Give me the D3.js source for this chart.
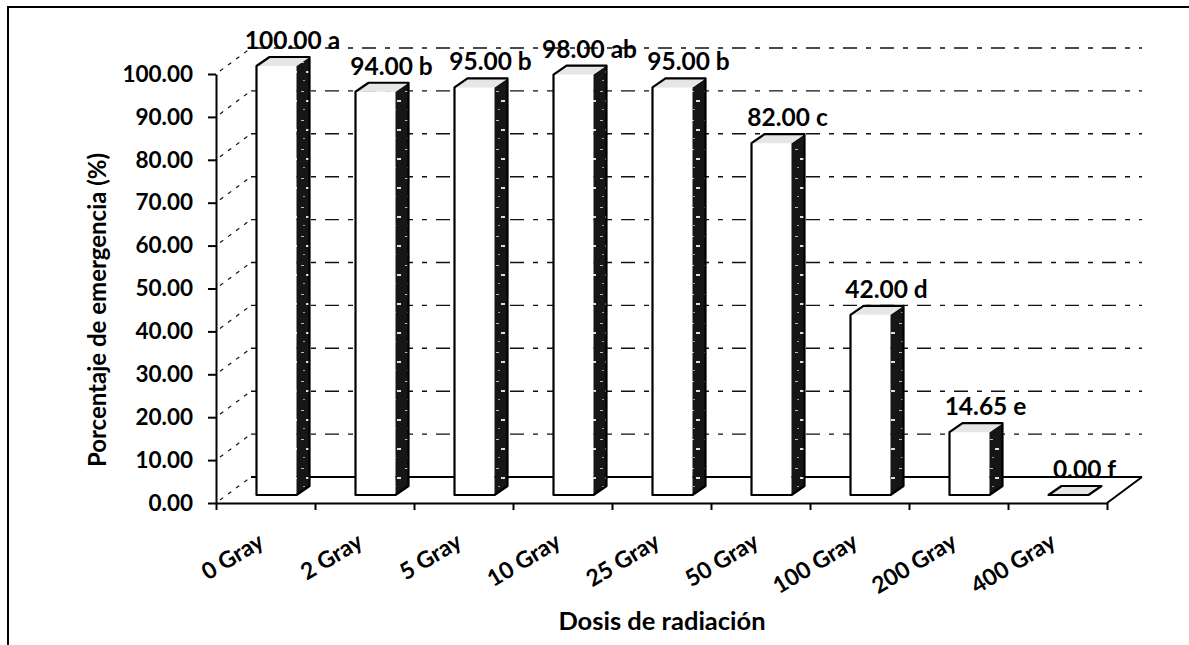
<!DOCTYPE html>
<html><head><meta charset="utf-8">
<script src="https://cdn.jsdelivr.net/npm/d3@7"></script>
<style>
body{margin:0;background:#fff}
text{font-family:Lato,"Open Sans",sans-serif;font-weight:bold;fill:#000}
</style>
</head><body><svg id="c" width="1189" height="645"></svg>
<script>
const categories = ["0 Gray","2 Gray","5 Gray","10 Gray","25 Gray","50 Gray","100 Gray","200 Gray","400 Gray"];
const values = [100,94,95,98,95,82,42,14.65,0];
const letters = ["a","b","b","ab","b","c","d","e","f"];
const yTicks = [0,10,20,30,40,50,60,70,80,90,100];
const yTitle = "Porcentaje de emergencia (%)";
const xTitle = "Dosis de radiación";

const svg = d3.select("#c");
const x = d3.scaleBand().domain(categories).range([216,1107]);
const xi = d3.scaleLinear().domain([0,categories.length]).range([216,1107]);
const y = d3.scaleLinear().domain([0,100]).range([503,74]);
const DX = 35, DY = -26;          // wall depth
const BW = 40, BDX = 13, BDY = -9; // bar width / bar depth
const BSX = 11, BSY = -8;          // bar inset from front plane

// pattern for dark side faces
const defs = svg.append("defs");
const pat = defs.append("pattern").attr("id","side").attr("patternUnits","userSpaceOnUse")
  .attr("width",13).attr("height",29);
pat.append("rect").attr("width",13).attr("height",29).attr("fill","#161616");
pat.append("rect").attr("x",2).attr("y",4).attr("width",3).attr("height",1).attr("fill","#bbb");
pat.append("rect").attr("x",7).attr("y",13).attr("width",4).attr("height",2).attr("fill","#ddd");
pat.append("rect").attr("x",4).attr("y",22).attr("width",2).attr("height",1).attr("fill","#999");

// outer frame
svg.append("rect").attr("x",8).attr("y",7).attr("width",1300).attr("height",800)
  .attr("fill","none").attr("stroke","#000").attr("stroke-width",2);

// walls / grid
const g = svg.append("g");
yTicks.filter(v=>v>0).forEach(v=>{
  g.append("line").attr("x1",xi(0)+DX).attr("x2",xi(categories.length)+DX)
    .attr("y1",y(v)+DY).attr("y2",y(v)+DY)
    .attr("stroke","#111").attr("stroke-width",1.4).attr("stroke-dasharray","14,9,5,9");
});
yTicks.forEach(v=>{
  g.append("line").attr("x1",xi(0)+4).attr("x2",xi(0)+DX)
    .attr("y1",y(v)-3).attr("y2",y(v)+DY)
    .attr("stroke","#111").attr("stroke-width",1.2).attr("stroke-dasharray","4,6");
});
// floor
g.append("line").attr("x1",xi(0)+DX).attr("x2",xi(categories.length)+DX)
  .attr("y1",y(0)+DY).attr("y2",y(0)+DY).attr("stroke","#000").attr("stroke-width",2);
g.append("line").attr("x1",xi(categories.length)).attr("x2",xi(categories.length)+DX)
  .attr("y1",y(0)).attr("y2",y(0)+DY).attr("stroke","#000").attr("stroke-width",2);

// bars
const bars = svg.append("g");
categories.forEach((c,i)=>{
  const v = values[i];
  const x0 = x(c)+x.bandwidth()/2-BW/2+BSX, x1 = x0+BW;
  const yb = y(0)+BSY, yt = y(v)+BSY;
  const b = bars.append("g");
  b.append("rect").attr("x",x0).attr("y",yt).attr("width",BW).attr("height",yb-yt).attr("fill","#fff");
  b.append("polygon").attr("points",[[x1,yb],[x1+BDX,yb+BDY],[x1+BDX,yt+BDY],[x1,yt]].join(" "))
    .attr("fill","url(#side)");
  b.append("polygon").attr("points",[[x0,yt],[x0+BDX,yt+BDY],[x1+BDX,yt+BDY],[x1,yt]].join(" "))
    .attr("fill","#e6e6e6");
  b.append("path").attr("d",`M${x0},${yb}L${x0},${yt}L${x0+BDX},${yt+BDY}L${x1+BDX},${yt+BDY}L${x1+BDX},${yb+BDY}L${x1},${yb}Z`)
    .attr("fill","none").attr("stroke","#000").attr("stroke-width",2.2).attr("stroke-linejoin","round");
  if (v===0) b.append("line").attr("x1",x0).attr("x2",x1).attr("y1",yb).attr("y2",yb).attr("stroke","#000").attr("stroke-width",2.2);
  b.append("text").attr("x",x0+BW/2+16).attr("y",yt+BDY-8).attr("text-anchor","middle")
    .attr("font-size",24.5).text(d3.format(".2f")(v)+" "+letters[i]);
});

// axes
const ya = svg.append("g").attr("transform",`translate(${xi(0)},0)`)
  .call(d3.axisLeft(y).tickValues(yTicks).tickFormat(d3.format(".2f")).tickSize(8).tickSizeOuter(0).tickPadding(15));
ya.selectAll("text").attr("font-size",22.5).style("font-family","Lato,'Open Sans',sans-serif").style("font-weight","bold");
ya.selectAll("line,path").attr("stroke","#000").attr("stroke-width",2);

const xa = svg.append("g").attr("transform",`translate(0,${y(0)})`)
  .call(d3.axisBottom(xi).tickValues(d3.range(categories.length+1)).tickFormat("").tickSize(7).tickSizeOuter(0));
xa.selectAll("line,path").attr("stroke","#000").attr("stroke-width",2);

svg.append("g").selectAll("text").data(categories).join("text")
  .attr("text-anchor","end").attr("font-size",23)
  .attr("transform",d=>`translate(${x(d)+x.bandwidth()/2},546) rotate(-31)`)
  .text(d=>d);

svg.append("text").attr("x",662).attr("y",630).attr("text-anchor","middle").attr("font-size",25.5).text(xTitle);
svg.append("text").attr("transform","translate(106,310) rotate(-90)").attr("text-anchor","middle").attr("font-size",24).text(yTitle);
</script>
</body></html>
